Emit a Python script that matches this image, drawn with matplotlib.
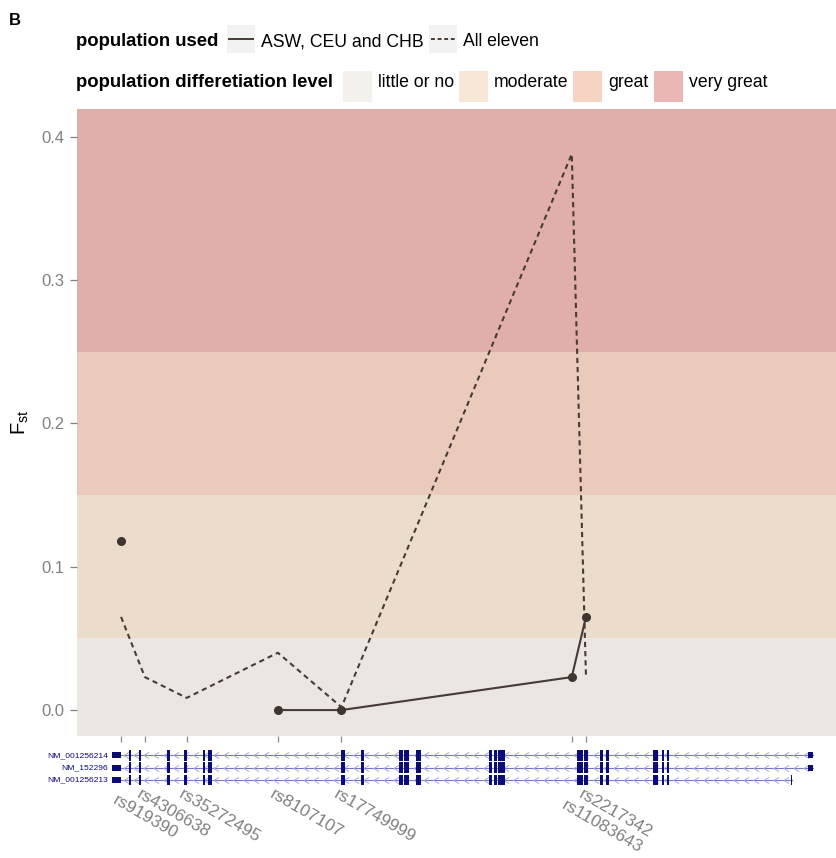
import numpy as np
import matplotlib
matplotlib.use('Agg')
import matplotlib.pyplot as plt
from matplotlib.patches import Rectangle
from matplotlib.path import Path
from matplotlib.transforms import Affine2D

plt.rcParams['font.family'] = ['Liberation Sans', 'DejaVu Sans']
plt.rcParams['mathtext.fontset'] = 'custom'
plt.rcParams['mathtext.rm'] = 'Liberation Sans'
plt.rcParams['mathtext.it'] = 'Liberation Sans:italic'
plt.rcParams['mathtext.bf'] = 'Liberation Sans:bold'

# ---------------- data ----------------
snp_ids = ['rs919390', 'rs4306638', 'rs35272495', 'rs8107107',
           'rs17749999', 'rs2217342', 'rs11083643']
snp_pos_kb = [1.74, 2.68, 4.33, 7.93, 10.44, 19.53, 20.09]
fst_asw_ceu_chb = [0.118, np.nan, np.nan, 0.0, 0.0, 0.023, 0.065]
fst_all_eleven = [0.065, 0.023, 0.0085, 0.040, 0.002, 0.388, 0.024]

series_names = ['ASW, CEU and CHB', 'All eleven']

level_names = ['little or no', 'moderate', 'great', 'very great']
level_lower = [0.0, 0.05, 0.15, 0.25]
level_upper = [0.05, 0.15, 0.25, 1.0]

y_ticks = [0.0, 0.1, 0.2, 0.3, 0.4]
y_ticklabels = ['0.0', '0.1', '0.2', '0.3', '0.4']

transcripts = ['NM_001256214', 'NM_152296', 'NM_001256213']
tx_start_kb = [1.37, 1.37, 1.37]
tx_end_kb = [29.04, 29.04, 28.23]
utr_left_kb = [(1.37, 1.72), (1.37, 1.72), (1.37, 1.72)]
utr_right_kb = [(28.84, 29.04), (28.84, 29.04), None]
last_exon_kb = [None, None, (28.19, 28.23)]
exons_kb = [(2.05, 2.13), (2.46, 2.54), (3.57, 3.67), (4.22, 4.33),
            (4.96, 5.06), (5.16, 5.34), (10.42, 10.58), (11.21, 11.33),
            (12.72, 12.88), (12.92, 13.11), (13.38, 13.57), (16.28, 16.38),
            (16.47, 16.57), (16.63, 16.89), (19.73, 19.96), (20.01, 20.18),
            (20.64, 20.75), (20.88, 21.01), (22.73, 22.92), (23.11, 23.18),
            (23.28, 23.37)]

# ---------------- style ----------------
W, H = 837, 858
band_colors = ['#ebe6e1', '#ecdccb', '#e9cabb', '#e0aeab']
key_colors = ['#f4f0ec', '#f8e6d6', '#f6d3c2', '#eab7b5']
line_color = '#463b36'
tick_gray = '#808080'
navy = '#0c0c78'
label_extra_px = [(0, 6.0), (0, 0), (0, 0), (0, 0), (0, 0), (14.5, 0), (-16.5, 10.5)]

fig = plt.figure(figsize=(W / 100, H / 100), dpi=100)
fig.patch.set_facecolor('white')
tpx = Affine2D().scale(1 / W, -1 / H).translate(0, 1) + fig.transFigure

ax = fig.add_axes([77 / W, 1 - 736 / H, (837 - 77) / W, (736 - 109) / H])
ylo, yhi = -0.0181, 0.4194
for lo, hi, c in zip(level_lower, level_upper, band_colors):
    ax.axhspan(lo if lo > 0 else ylo - 1, hi, color=c, lw=0, zorder=0)

ax.plot(snp_pos_kb, fst_all_eleven, color=line_color, lw=1.5,
        ls=(0, (2.5, 1.9)), zorder=3)
ax.plot(snp_pos_kb, fst_asw_ceu_chb, color=line_color, lw=1.5, zorder=3)
ax.plot(snp_pos_kb, fst_asw_ceu_chb, 'o', color='#3e3530', ms=5.5, zorder=4)

ax.set_xlim(0, 30)
ax.set_ylim(ylo, yhi)
for s in ax.spines.values():
    s.set_visible(False)
ax.set_yticks(y_ticks)
ax.set_yticklabels(y_ticklabels)
ax.set_xticks(snp_pos_kb)
ax.set_xticklabels([])
ax.tick_params(axis='y', length=5, width=0.9, color=tick_gray, labelcolor=tick_gray,
               labelsize=12, pad=4.3)
ax.tick_params(axis='x', length=4.5, width=0.9, color='#8a8a8a', pad=0)

for name, pos, (ex, ey) in zip(snp_ids, snp_pos_kb, label_extra_px):
    ax.annotate(name, xy=(pos, 0), xycoords=ax.get_xaxis_transform(),
                xytext=((-2.75 + ex) * 0.72, -(51.0 + ey) * 0.72),
                textcoords='offset points', rotation=-30, rotation_mode='anchor',
                ha='left', va='top', color=tick_gray, fontsize=12.4,
                annotation_clip=False)

# ---------------- gene track ----------------
gx = fig.add_axes([77 / W, 1 - 786.2 / H, (837 - 77) / W, 37.1 / H])
gx.set_xlim(0, 30)
gx.set_ylim(2.5, -0.5)
gx.axis('off')
gx.patch.set_alpha(0)
chev = Path([(0.5, 0.6), (-0.5, 0.0), (0.5, -0.6)],
            [Path.MOVETO, Path.LINETO, Path.LINETO])
for i, name in enumerate(transcripts):
    s, e = tx_start_kb[i], tx_end_kb[i]
    gx.plot([s, e], [i, i], color='#7676c6', lw=0.8, zorder=1)
    cx = np.arange(s + 0.55, e - 0.2, 0.395)
    gx.plot(cx, np.full_like(cx, i), ls='none', marker=chev, ms=4.5,
            mfc='none', mec='#a9a9dc', mew=0.7, zorder=1)
    for a, b in exons_kb:
        gx.add_patch(Rectangle((a, i - 0.43), b - a, 0.86, color=navy, lw=0, zorder=2))
    ul = utr_left_kb[i]
    gx.add_patch(Rectangle((ul[0], i - 0.24), ul[1] - ul[0], 0.48, color=navy, lw=0, zorder=2))
    if utr_right_kb[i] is not None:
        ur = utr_right_kb[i]
        gx.add_patch(Rectangle((ur[0], i - 0.24), ur[1] - ur[0], 0.48, color=navy, lw=0, zorder=2))
    if last_exon_kb[i] is not None:
        le = last_exon_kb[i]
        gx.add_patch(Rectangle((le[0], i - 0.43), le[1] - le[0], 0.86, color=navy, lw=0, zorder=2))
    gx.annotate(name, xy=(s, i), xytext=(-2.7, 0), textcoords='offset points',
                ha='right', va='center', fontsize=6.1, color=navy, annotation_clip=False)

# ---------------- titles / legend ----------------
fig.text(9, 25, 'B', transform=tpx, fontsize=12, fontweight='bold', ha='left', va='baseline')
fig.text(20, 422, r'$\mathrm{F_{st}}$', transform=tpx, fontsize=14.5, rotation=90,
         ha='center', va='center')

renderer = fig.canvas.get_renderer()


def put_text(x, y, s, **kw):
    t = fig.text(x, y, s, transform=tpx, ha='left', va='baseline', **kw)
    bb = t.get_window_extent(renderer)
    return bb.x1


# row 1: linetype legend
x = put_text(76, 46.5, 'population used', fontsize=13.3, fontweight='bold')
x += 9
for name, ls in zip(series_names, ['-', (0, (2.0, 1.4))]):
    fig.add_artist(Rectangle((x, 25), 28, 28, transform=tpx, color='#f2f2f2', lw=0))
    fig.add_artist(plt.Line2D([x + 2, x + 26], [39, 39], transform=tpx,
                              color=line_color, lw=1.4, ls=ls))
    x = put_text(x + 28 + 6, 46.5, name, fontsize=12.7)
    x += 5

# row 2: fill legend
x = put_text(76, 87.3, 'population differetiation level', fontsize=13.3, fontweight='bold')
x += 10
for name, c in zip(level_names, key_colors):
    fig.add_artist(Rectangle((x, 71), 29, 31, transform=tpx, color=c, lw=0))
    x = put_text(x + 29 + 6, 87.3, name, fontsize=12.7)
    x += 5

fig.savefig('out.png', dpi=100, facecolor='white')
